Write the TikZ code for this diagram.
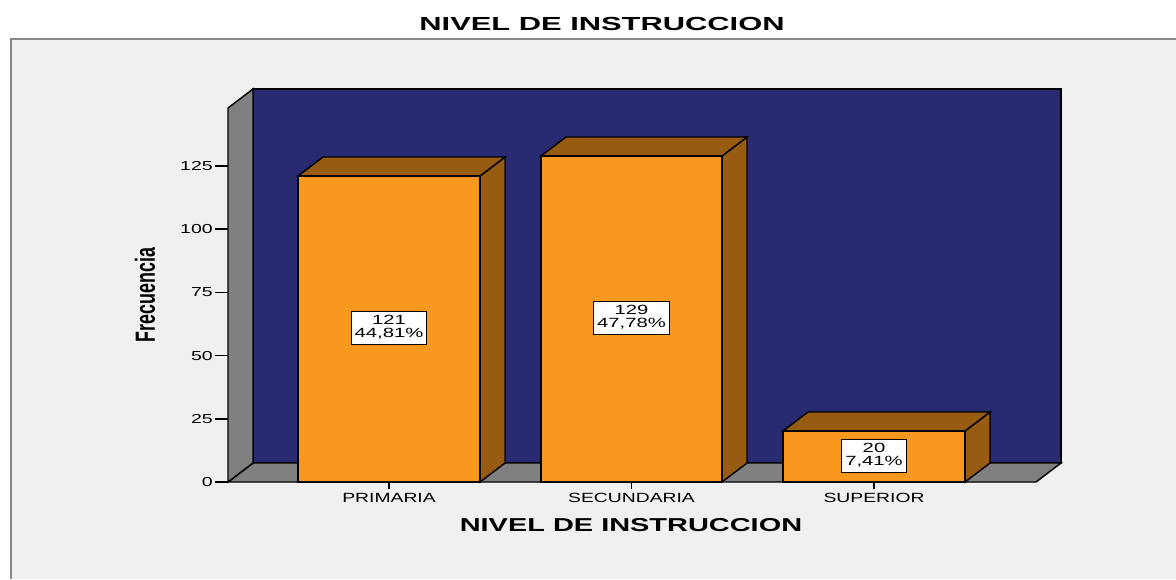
\documentclass[tikz,border=0pt]{standalone}
\usepackage{fontspec}
\setmainfont{Liberation Sans}
\usepackage{graphicx}
\usepackage{xcolor}
\usepackage{tikz}

\definecolor{wallblue}{RGB}{40,42,114}
\definecolor{barfront}{RGB}{248,152,30}
\definecolor{barside}{RGB}{152,91,18}
\definecolor{wallgray}{RGB}{128,128,128}
\definecolor{framebg}{RGB}{240,240,240}
\definecolor{framegray}{RGB}{136,136,136}

\newcommand{\wtxt}[2]{\scalebox{#1}[1]{#2}}

\begin{document}
\begin{tikzpicture}[x=0.75pt,y=-0.75pt,
  edge/.style={line width=1.1, black},
  ticklab/.style={anchor=east, inner sep=0, font=\fontsize{9.75}{10}\selectfont},
  catlab/.style={inner sep=0, font=\fontsize{10}{11}\selectfont},
  labbox/.style={draw, fill=white, line width=0.8, inner xsep=2.5pt, inner ysep=2.6pt, font=\fontsize{10}{10}\selectfont}]

\useasboundingbox (0,0) rectangle (1176,579);
\fill[white] (0,0) rectangle (1176,579);

% chart frame
\fill[framebg] (10,38) rectangle (1176,579);
\draw[framegray, line width=1.5] (11,579) -- (11,39) -- (1176,39);

% title
\node[font=\fontsize{14.2}{16}\selectfont\bfseries] (title) at (602,24) {\wtxt{1.63}{NIVEL DE INSTRUCCION}};

% back wall, floor and left wall
\draw[edge, fill=wallblue] (253,89) rectangle (1061,463);
\draw[edge, fill=wallgray] (228,482) -- (253,463) -- (1061,463) -- (1036,482) -- cycle;
\draw[edge, fill=wallgray] (228,482) -- (228,108) -- (253,89) -- (253,463) -- cycle;

% bar PRIMARIA
\draw[edge, fill=barside] (480,482) -- (505,463) -- (505,157) -- (480,176) -- cycle;
\draw[edge, fill=barside] (298,176) -- (323,157) -- (505,157) -- (480,176) -- cycle;
\draw[edge, fill=barfront] (298,176) rectangle (480,482);

% bar SECUNDARIA
\draw[edge, fill=barside] (722,482) -- (747,463) -- (747,137) -- (722,156) -- cycle;
\draw[edge, fill=barside] (541,156) -- (566,137) -- (747,137) -- (722,156) -- cycle;
\draw[edge, fill=barfront] (541,156) rectangle (722,482);

% bar SUPERIOR
\draw[edge, fill=barside] (965,482) -- (990,463) -- (990,412) -- (965,431) -- cycle;
\draw[edge, fill=barside] (783,431) -- (808,412) -- (990,412) -- (965,431) -- cycle;
\draw[edge, fill=barfront] (783,431) rectangle (965,482);

% value labels
\node[labbox] (primval) at (389,328) {\wtxt{1.52}{\begin{tabular}{@{}c@{}}121\\44,81\%\end{tabular}}};
\node[labbox] (secval) at (631.5,318) {\wtxt{1.52}{\begin{tabular}{@{}c@{}}129\\47,78\%\end{tabular}}};
\node[labbox] (supval) at (874,456) {\wtxt{1.52}{\begin{tabular}{@{}c@{}}20\\7,41\%\end{tabular}}};

% y axis ticks
\draw[edge] (215,482) -- (228,482);
\draw[edge] (215,418.8) -- (228,418.8);
\draw[edge] (215,355.6) -- (228,355.6);
\draw[edge] (215,292.4) -- (228,292.4);
\draw[edge] (215,229.2) -- (228,229.2);
\draw[edge] (215,166) -- (228,166);
\node[ticklab] (t0) at (213,482) {\wtxt{1.5}{0}};
\node[ticklab] (t25) at (213,418.8) {\wtxt{1.5}{25}};
\node[ticklab] (t50) at (213,355.6) {\wtxt{1.5}{50}};
\node[ticklab] (t75) at (213,292.4) {\wtxt{1.5}{75}};
\node[ticklab] (t100) at (213,229.2) {\wtxt{1.5}{100}};
\node[ticklab] (t125) at (213,166) {\wtxt{1.5}{125}};

% x axis ticks and categories
\draw[edge] (389,482) -- (389,489);
\draw[edge] (631.5,482) -- (631.5,489);
\draw[edge] (874,482) -- (874,489);
\node[catlab] (prim) at (389,497.5) {\wtxt{1.45}{PRIMARIA}};
\node[catlab] (sec) at (631.5,497.5) {\wtxt{1.45}{SECUNDARIA}};
\node[catlab] (sup) at (874,497.5) {\wtxt{1.45}{SUPERIOR}};

% axis titles
\node[font=\fontsize{14}{16}\selectfont\bfseries] (xtitle) at (631,525) {\wtxt{1.55}{NIVEL DE INSTRUCCION}};
\node[rotate=90, font=\fontsize{13.4}{15}\selectfont\bfseries] (ytitle) at (145,295) {\scalebox{1}[1.55]{Frecuencia}};

\end{tikzpicture}
\end{document}
